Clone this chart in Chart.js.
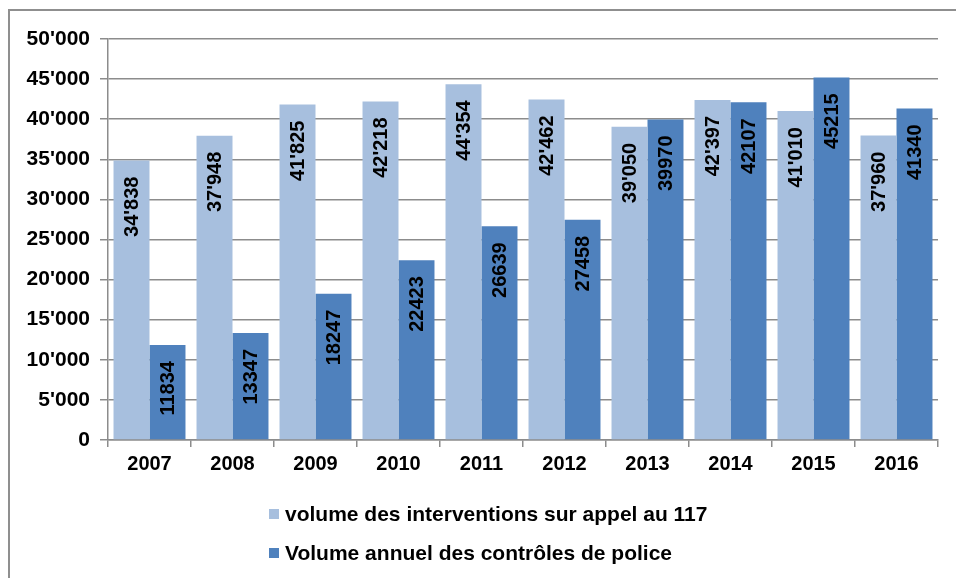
<!DOCTYPE html>
<html>
<head>
<meta charset="utf-8">
<script src="https://cdn.jsdelivr.net/npm/chart.js@4"></script>
<style>
  html, body { margin: 0; padding: 0; background: #fff; overflow: hidden; }
  #frame {
    position: absolute; left: 8px; top: 9px; width: 1200px; height: 1200px;
    border-top: 2px solid #8f8f8f; border-left: 2px solid #8f8f8f;
  }
  #wrap { position: absolute; left: 0; top: 0; width: 956px; height: 578px; }
</style>
</head>
<body>
<div id="frame"></div>
<div id="wrap"><canvas id="chart-bars"></canvas></div>
<script>
const years = ['2007', '2008', '2009', '2010', '2011', '2012', '2013', '2014', '2015', '2016'];
const interventions117 = [34838, 37948, 41825, 42218, 44354, 42462, 39050, 42397, 41010, 37960];
const controlesPolice = [11834, 13347, 18247, 22423, 26639, 27458, 39970, 42107, 45215, 41340];
const seriesNames = ['volume des interventions sur appel au 117', 'Volume annuel des contrôles de police'];
const seriesColors = ['#a7bfde', '#4f81bd'];
const yTicks = [0, 5000, 10000, 15000, 20000, 25000, 30000, 35000, 40000, 45000, 50000];

const FONT = '"Liberation Sans", Arial, sans-serif';

function swiss(n) {
  return String(n).replace(/\B(?=(\d{3})+(?!\d))/g, "'");
}

// labels written vertically inside the top of each bar
const barLabels = {
  id: 'barLabels',
  afterDatasetsDraw(chart) {
    const ctx = chart.ctx;
    ctx.save();
    ctx.font = 'bold 20px ' + FONT;
    ctx.fillStyle = '#000';
    ctx.textBaseline = 'middle';
    ctx.textAlign = 'right';
    chart.data.datasets.forEach((ds, di) => {
      chart.getDatasetMeta(di).data.forEach((bar, i) => {
        const v = ds.data[i];
        const txt = di === 0 ? swiss(v) : String(v);
        ctx.save();
        ctx.translate(bar.x, bar.y + 16);
        ctx.rotate(-Math.PI / 2);
        ctx.fillText(txt, 0, 1);
        ctx.restore();
      });
    });
    ctx.restore();
  }
};

// legend stacked one item per line under the axis
const stackedLegend = {
  id: 'stackedLegend',
  afterDraw(chart) {
    const ctx = chart.ctx;
    ctx.save();
    ctx.font = 'bold 21px ' + FONT;
    ctx.textBaseline = 'middle';
    ctx.textAlign = 'left';
    const rows = [514, 553];
    chart.data.datasets.forEach((ds, di) => {
      ctx.fillStyle = ds.backgroundColor;
      ctx.fillRect(269, rows[di] - 5, 10, 10);
      ctx.fillStyle = '#000';
      ctx.fillText(ds.label, 285, rows[di] + 1);
    });
    ctx.restore();
  }
};

document.addEventListener("DOMContentLoaded", function () {

  const ctx = document.getElementById('chart-bars');

  new Chart(ctx, {
    type: 'bar',
    data: {
      labels: years,
      datasets: [
        {
          label: seriesNames[0],
          data: interventions117,
          backgroundColor: seriesColors[0],
          barPercentage: 1.0,
          categoryPercentage: 0.867
        },
        {
          label: seriesNames[1],
          data: controlesPolice,
          backgroundColor: seriesColors[1],
          barPercentage: 1.0,
          categoryPercentage: 0.867
        }
      ]
    },
    options: {
      responsive: true,
      maintainAspectRatio: false,
      animation: false,
      layout: {
        padding: { left: 0, top: 39, right: 18, bottom: 98 }
      },
      plugins: {
        legend: { display: false },
        tooltip: { enabled: false }
      },
      scales: {
        x: {
          grid: {
            display: true,
            offset: true,
            drawOnChartArea: false,
            drawTicks: true,
            tickLength: 7,
            color: '#8c8c8c',
            lineWidth: 1.5
          },
          border: { color: '#8c8c8c', width: 1.5 },
          ticks: {
            color: '#000',
            font: { family: FONT, size: 20, weight: 'bold' },
            padding: 5,
            maxRotation: 0
          },
          afterFit(scale) { scale.height = 40; }
        },
        y: {
          min: 0,
          max: 50000,
          afterBuildTicks(scale) {
            scale.ticks = yTicks.map(v => ({ value: v }));
          },
          grid: {
            color: '#8c8c8c',
            lineWidth: 1.5,
            tickLength: 8
          },
          border: { color: '#8c8c8c', width: 1.5 },
          ticks: {
            color: '#000',
            font: { family: FONT, size: 21, weight: 'bold' },
            padding: 10,
            callback: v => swiss(v)
          },
          afterFit(scale) { scale.width = 108; }
        }
      }
    },
    plugins: [barLabels, stackedLegend]
  });

});
</script>
</body>
</html>
